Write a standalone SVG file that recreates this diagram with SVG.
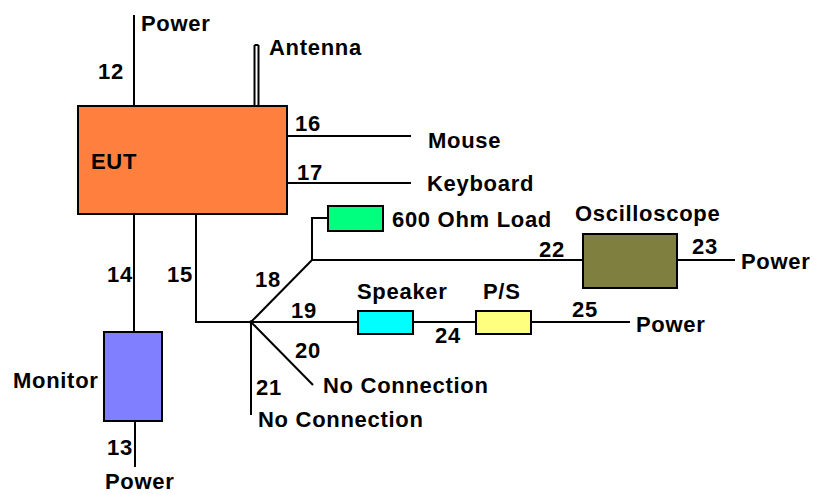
<svg xmlns="http://www.w3.org/2000/svg" width="814" height="495" viewBox="0 0 814 495">
<style>
text{font-family:"Liberation Sans",Arial,sans-serif;font-weight:bold;font-size:22px;letter-spacing:0.7px;fill:#000}
.w{stroke:#000;stroke-width:2;fill:none}
.b{stroke:#000;stroke-width:2}
</style>
<rect width="814" height="495" fill="#fff"/>
<g id="connectors">
<path class="w" d="M134 15V106"/>
<path class="w" d="M254.5 45V106M258.5 45V106M254.5 45H258.5"/>
<path class="w" d="M287 136H411"/>
<path class="w" d="M287 183H411"/>
<path class="w" d="M134 214V332"/>
<path class="w" d="M196 214V322H251"/>
<path class="w" d="M135 421V467"/>
<path class="w" d="M251 322V415"/>
<path class="w" d="M251 322L312 260"/>
<path class="w" d="M312 260H583"/>
<path class="w" d="M312 260V218H328"/>
<path class="w" d="M251 322H358"/>
<path class="w" d="M413 322H476"/>
<path class="w" d="M531 322H630"/>
<path class="w" d="M251 322L313 385"/>
<path class="w" d="M677 260H735"/>
<circle cx="251" cy="322" r="1.8" fill="#000"/>
</g>
<g id="eut"><rect class="b" x="78" y="106" width="209" height="108" fill="#FF7F3F"/><text x="91" y="169">EUT</text></g>
<g id="monitor"><rect class="b" x="104" y="332" width="58" height="89" fill="#7F7FFF"/><text x="13" y="388">Monitor</text></g>
<g id="load"><rect class="b" x="328" y="206" width="55" height="25" fill="#00FF7F"/><text x="392" y="227">600 Ohm Load</text></g>
<g id="speaker"><rect class="b" x="358" y="311" width="55" height="23" fill="#00FFFF"/><text x="357" y="299">Speaker</text></g>
<g id="ps"><rect class="b" x="476" y="311" width="55" height="23" fill="#FFFF7F"/><text x="483" y="299">P/S</text></g>
<g id="oscilloscope"><rect class="b" x="583" y="234" width="94" height="54" fill="#7F7F3F"/><text x="575" y="221">Oscilloscope</text></g>
<g id="labels">
<text x="141" y="31">Power</text>
<text x="269" y="55">Antenna</text>
<text x="428" y="148">Mouse</text>
<text x="427" y="191">Keyboard</text>
<text x="741" y="269">Power</text>
<text x="636" y="332">Power</text>
<text x="323" y="393">No Connection</text>
<text x="258" y="427">No Connection</text>
<text x="105" y="489">Power</text>
<text x="98" y="79">12</text>
<text x="295" y="131">16</text>
<text x="297" y="180">17</text>
<text x="107" y="282">14</text>
<text x="167" y="282">15</text>
<text x="107" y="455">13</text>
<text x="255" y="287">18</text>
<text x="291" y="318">19</text>
<text x="295" y="358">20</text>
<text x="256" y="395">21</text>
<text x="539" y="257">22</text>
<text x="692" y="254">23</text>
<text x="435" y="343">24</text>
<text x="572" y="317">25</text>
</g>
</svg>
